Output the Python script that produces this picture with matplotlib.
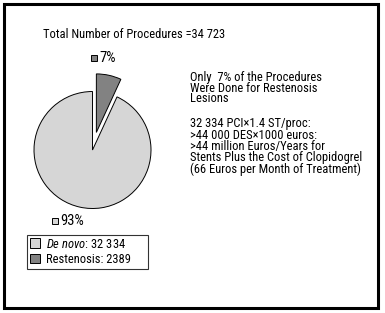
import matplotlib
matplotlib.use("Agg")
import matplotlib.pyplot as plt
from matplotlib.patches import Rectangle

# data
labels = ["Restenosis", "De novo"]
counts = [2389, 32334]
pct_labels = ["7%", "93%"]
colors = ["#828282", "#d6d6d6"]
total_text = "Total Number of Procedures =34 723"
note_lines = [
    "Only  7% of the Procedures",
    "Were Done for Restenosis",
    "Lesions",
]
cost_lines = [
    "32 334 PCI\u00d71.4 ST/proc:",
    ">44 000 DES\u00d71000 euros:",
    ">44 million Euros/Years for",
    "Stents Plus the Cost of Clopidogrel",
    "(66 Euros per Month of Treatment)",
]
legend_labels = [r"$\mathit{De\ novo}$: 32 334", "Restenosis: 2389"]

FONT = "Roboto Condensed"
plt.rcParams["font.family"] = [FONT, "DejaVu Sans"]
plt.rcParams["mathtext.fontset"] = "custom"
plt.rcParams["mathtext.it"] = FONT + ":italic"
plt.rcParams["mathtext.rm"] = FONT

W, H = 385, 313
fig = plt.figure(figsize=(W / 100, H / 100), dpi=100)
ax = fig.add_axes([0, 0, 1, 1])


def py(y):
    return H - y


wedges, _ = ax.pie(counts, colors=colors, startangle=90, counterclock=False,
                   explode=[18, 0], center=(92.5, py(150)), radius=58.5,
                   wedgeprops=dict(edgecolor="black", linewidth=0.7),
                   frame=True)
ax.set_xlim(0, W)
ax.set_ylim(0, H)
ax.set_aspect("equal")
ax.axis("off")

# outer frame
ax.add_patch(Rectangle((4, py(308)), 374, 304, fill=False, lw=2.2, ec="black"))

ax.text(43, py(35), total_text, fontsize=9, va="center", ha="left")

# percent labels with small swatches
for (x, y), col, txt in zip([(94, 58), (55, 221)], colors, pct_labels):
    ax.add_patch(Rectangle((x - 3, py(y) - 3), 6, 6, fc=col, ec="black", lw=0.7))
    ax.text(x + 5, py(y), txt, fontsize=10.5, va="center", ha="left")

for i, line in enumerate(note_lines):
    ax.text(190, py(77 + i * 11), line, fontsize=9, va="center", ha="left")
for i, line in enumerate(cost_lines):
    ax.text(190, py(124 + i * 11.3), line, fontsize=9, va="center", ha="left")

leg = ax.legend([wedges[1], wedges[0]], legend_labels, loc="upper left",
                bbox_to_anchor=(27 / W, 1 - 235 / H, 121 / W, 0),
                mode="expand", fontsize=9,
                frameon=True, fancybox=False, edgecolor="black",
                handlelength=0.8, handleheight=0.8, handletextpad=0.5,
                borderpad=0.2, labelspacing=0.2, borderaxespad=0)
leg.get_frame().set_linewidth(0.8)

fig.savefig("out.png", dpi=100)
